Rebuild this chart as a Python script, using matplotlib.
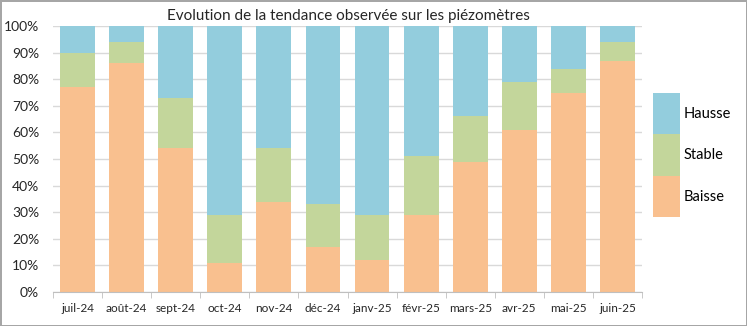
import matplotlib.pyplot as plt
import numpy as np

plt.rcParams['font.family'] = ['Lato', 'DejaVu Sans']

mois = ['juil-24', 'août-24', 'sept-24', 'oct-24', 'nov-24', 'déc-24',
        'janv-25', 'févr-25', 'mars-25', 'avr-25', 'mai-25', 'juin-25']
baisse = [77, 86, 54, 11, 34, 17, 12, 29, 49, 61, 75, 87]
stable = [13, 8, 19, 18, 20, 16, 17, 22, 17, 18, 9, 7]
hausse = [100 - b - s for b, s in zip(baisse, stable)]

c_baisse = '#F9C08F'
c_stable = '#C3D69B'
c_hausse = '#93CDDD'

fig = plt.figure(figsize=(7.47, 3.26), dpi=100)
fig.patch.set_edgecolor('#A6A6A6')
fig.patch.set_linewidth(2)
ax = fig.add_axes([53 / 747, 1 - 292 / 326, 589 / 747, 266 / 326])

x = np.arange(len(mois))
w = 0.71
b1 = ax.bar(x, baisse, w, color=c_baisse, label='Baisse', zorder=2)
b2 = ax.bar(x, stable, w, bottom=baisse, color=c_stable, label='Stable', zorder=2)
b3 = ax.bar(x, hausse, w, bottom=np.add(baisse, stable), color=c_hausse,
            label='Hausse', zorder=2)

ax.set_xlim(-0.5, len(mois) - 0.5)
ax.set_ylim(0, 100)
ax.set_yticks(range(0, 101, 10))
ax.set_yticklabels([f'{v}%' for v in range(0, 101, 10)], fontsize=10,
                   color='#262626')
ax.yaxis.grid(True, color='#D9D9D9', linewidth=1.0, zorder=0)
ax.tick_params(axis='y', length=0, pad=10)

ax.set_xticks(x)
ax.set_xticklabels(mois, fontsize=8.5, color='#262626')
ax.set_xticks(np.arange(-0.5, len(mois), 1), minor=True)
ax.tick_params(axis='x', which='major', length=0, pad=8)
ax.tick_params(axis='x', which='minor', length=4, color='#BFBFBF')

for side in ['top', 'right', 'left']:
    ax.spines[side].set_visible(False)
ax.spines['bottom'].set_color('#BFBFBF')

fig.text(348 / 747, 1 - 16 / 326,
         'Evolution de la tendance observée sur les piézomètres',
         ha='center', va='center', fontsize=11, color='#262626')

fig.legend(handles=[b3, b2, b1], labels=['Hausse', 'Stable', 'Baisse'],
           loc='upper left', bbox_to_anchor=(653 / 747, 1 - 93 / 326),
           frameon=False, fontsize=10.5, handleheight=4.0, handlelength=1.85,
           labelspacing=0, handletextpad=0.25, borderpad=0, borderaxespad=0)

fig.savefig('out.png', dpi=100)
